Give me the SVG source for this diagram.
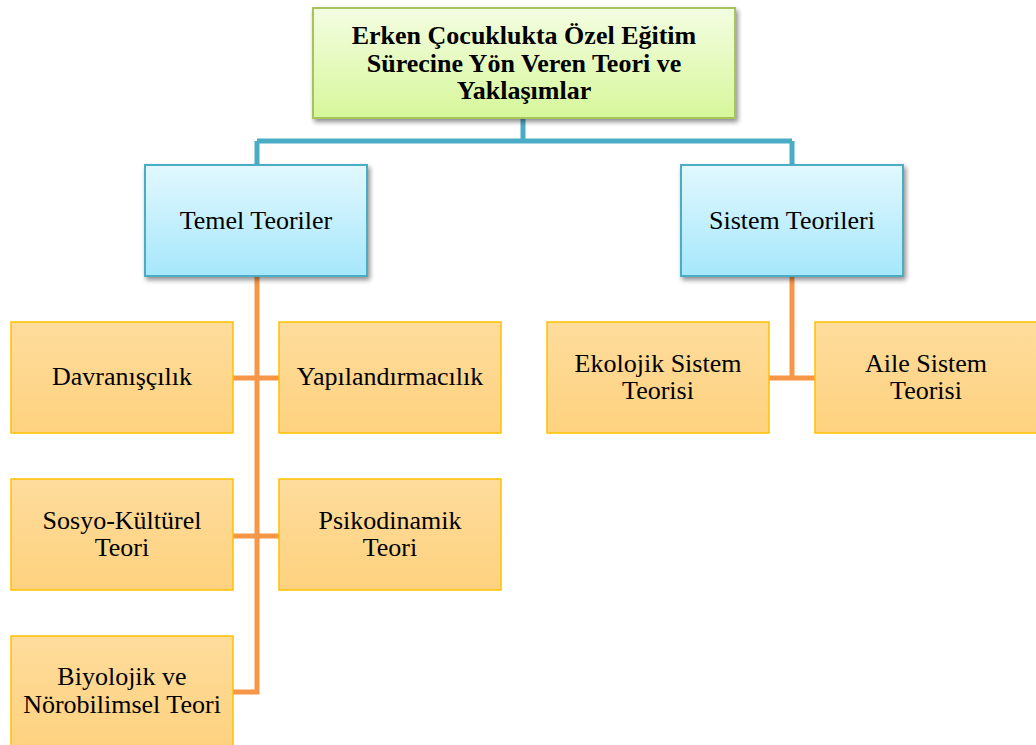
<svg xmlns="http://www.w3.org/2000/svg" width="1036" height="745" viewBox="0 0 1036 745">
  <defs>
    <linearGradient id="gGreen" x1="0" y1="0" x2="0" y2="1">
      <stop offset="0" stop-color="#f4fde2"/>
      <stop offset="1" stop-color="#d6f79a"/>
    </linearGradient>
    <linearGradient id="gBlue" x1="0" y1="0" x2="0" y2="1">
      <stop offset="0" stop-color="#e2f8fe"/>
      <stop offset="1" stop-color="#a6e7fb"/>
    </linearGradient>
    <linearGradient id="gOrange" x1="0" y1="0" x2="0" y2="1">
      <stop offset="0" stop-color="#fedc9c"/>
      <stop offset="1" stop-color="#fed27f"/>
    </linearGradient>
    <filter id="shadow" x="-10%" y="-10%" width="125%" height="130%">
      <feGaussianBlur in="SourceAlpha" stdDeviation="2.5"/>
      <feOffset dx="2" dy="3"/>
      <feComponentTransfer><feFuncA type="linear" slope="0.45"/></feComponentTransfer>
      <feMerge><feMergeNode/><feMergeNode in="SourceGraphic"/></feMerge>
    </filter>
  </defs>
  <style>
    .root { fill: url(#gGreen); stroke: #a6c45a; stroke-width: 2; filter: url(#shadow); }
    .group { fill: url(#gBlue); stroke: #4bacc6; stroke-width: 2; filter: url(#shadow); }
    .leaf { fill: url(#gOrange); stroke: #ffc000; stroke-width: 1.5; }
    .blue { fill: none; stroke: #4bacc6; stroke-width: 5; }
    .orange { fill: none; stroke: #f79646; stroke-width: 5; }
    text { font-family: "Liberation Serif", "Times New Roman", serif; font-size: 26px; fill: #000; text-anchor: middle; }
    .title { font-weight: bold; }
  </style>
  <rect width="1036" height="745" fill="#ffffff"/>

  <g id="connectors">
    <path class="blue" d="M523 118 V141 M257 141 H792 M257 141 V165 M792 141 V165"/>
    <path class="orange" d="M257 276 V692 H233 M233 378 H279 M233 536 H279"/>
    <path class="orange" d="M792 276 V378 M769 378 H815"/>
  </g>

  <g id="root">
    <rect class="root" x="313" y="8" width="422" height="110"/>
    <text class="title" x="524" y="44">Erken Çocuklukta Özel Eğitim</text>
    <text class="title" x="524" y="72">Sürecine Yön Veren Teori ve</text>
    <text class="title" x="524" y="99">Yaklaşımlar</text>
  </g>

  <g id="temel">
    <rect class="group" x="145" y="165" width="222" height="111"/>
    <text x="256" y="229">Temel Teoriler</text>
  </g>

  <g id="sistem">
    <rect class="group" x="681" y="165" width="222" height="111"/>
    <text x="792" y="229">Sistem Teorileri</text>
  </g>

  <g id="davranis">
    <rect class="leaf" x="11" y="322" width="222" height="111"/>
    <text x="122" y="385">Davranışçılık</text>
  </g>

  <g id="yapilandirma">
    <rect class="leaf" x="279" y="322" width="222" height="111"/>
    <text x="390" y="385">Yapılandırmacılık</text>
  </g>

  <g id="sosyo">
    <rect class="leaf" x="11" y="479" width="222" height="111"/>
    <text x="122" y="529">Sosyo-Kültürel</text>
    <text x="122" y="556">Teori</text>
  </g>

  <g id="psiko">
    <rect class="leaf" x="279" y="479" width="222" height="111"/>
    <text x="390" y="529">Psikodinamik</text>
    <text x="390" y="556">Teori</text>
  </g>

  <g id="biyolojik">
    <rect class="leaf" x="11" y="636" width="222" height="111"/>
    <text x="122" y="685">Biyolojik ve</text>
    <text x="122" y="713">Nörobilimsel Teori</text>
  </g>

  <g id="ekolojik">
    <rect class="leaf" x="547" y="322" width="222" height="111"/>
    <text x="658" y="372">Ekolojik Sistem</text>
    <text x="658" y="399">Teorisi</text>
  </g>

  <g id="aile">
    <rect class="leaf" x="815" y="322" width="222" height="111"/>
    <text x="926" y="372">Aile Sistem</text>
    <text x="926" y="399">Teorisi</text>
  </g>
</svg>
